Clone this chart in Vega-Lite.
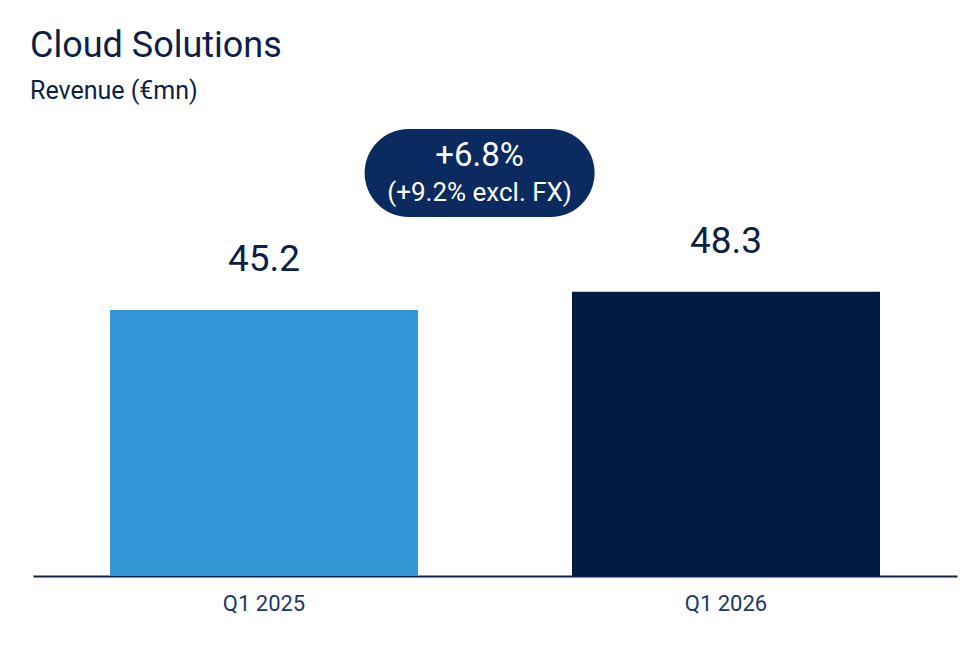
{
  "$schema": "https://vega.github.io/schema/vega-lite/v6.json",
  "width": 924,
  "height": 466,
  "padding": {"left": 30, "right": 21, "top": 28, "bottom": 10},
  "background": "white",
  "config": {
    "font": "Roboto",
    "view": {"stroke": null}
  },
  "title": {
    "text": "Cloud Solutions",
    "subtitle": "Revenue (€mn)",
    "anchor": "start",
    "frame": "group",
    "dx": -3,
    "font": "Roboto",
    "fontSize": 36,
    "fontWeight": "normal",
    "color": "#0c1f46",
    "subtitleFont": "Roboto",
    "subtitleFontSize": 25,
    "subtitleColor": "#0c1f46",
    "subtitlePadding": 14,
    "offset": 5
  },
  "datasets": {
    "revenue": [
      {"quarter": "Q1 2025", "revenue": 45.2, "label": "45.2"},
      {"quarter": "Q1 2026", "revenue": 48.3, "label": "48.3"}
    ],
    "growth": [
      {"from": "Q1 2025", "to": "Q1 2026", "growth": "+6.8%", "growthExFx": "(+9.2% excl. FX)"}
    ]
  },
  "layer": [
    {
      "data": {"name": "revenue"},
      "mark": {"type": "bar"},
      "encoding": {
        "x": {
          "field": "quarter", "type": "nominal", "sort": null,
          "scale": {"paddingInner": 0.3333, "paddingOuter": 0.1667},
          "axis": {
            "title": null, "labelAngle": 0, "ticks": false,
            "domainColor": "#0e2350", "domainWidth": 2,
            "labelFont": "Roboto", "labelFontSize": 22, "labelColor": "#1d3767",
            "labelPadding": 17
          }
        },
        "y": {
          "field": "revenue", "type": "quantitative",
          "scale": {"domain": [0, 79.2], "nice": false},
          "axis": null
        },
        "color": {
          "field": "quarter", "type": "nominal",
          "scale": {"domain": ["Q1 2025", "Q1 2026"], "range": ["#3396d6", "#001b42"]},
          "legend": null
        }
      }
    },
    {
      "data": {"name": "revenue"},
      "mark": {"type": "text", "baseline": "alphabetic", "dy": -39, "fontSize": 37, "color": "#0c1f46", "font": "Roboto"},
      "encoding": {
        "x": {"field": "quarter", "type": "nominal", "sort": null},
        "y": {"field": "revenue", "type": "quantitative"},
        "text": {"field": "label"}
      }
    },
    {
      "data": {"name": "growth"},
      "mark": {
        "type": "point", "filled": true, "opacity": 1, "color": "#0b2a5f", "strokeWidth": 0,
        "shape": "M -0.6174 -0.3826 L 0.6174 -0.3826 A 0.3826 0.3826 0 0 1 0.6174 0.3826 L -0.6174 0.3826 A 0.3826 0.3826 0 0 1 -0.6174 -0.3826 Z",
        "size": 52900
      },
      "encoding": {
        "x": {"field": "from", "type": "nominal", "bandPosition": 1.2},
        "y": {"datum": 68.5, "type": "quantitative"}
      }
    },
    {
      "data": {"name": "growth"},
      "mark": {"type": "text", "baseline": "alphabetic", "dy": -7, "fontSize": 33, "color": "white", "font": "Roboto"},
      "encoding": {
        "x": {"field": "from", "type": "nominal", "bandPosition": 1.2},
        "y": {"datum": 68.5, "type": "quantitative"},
        "text": {"field": "growth"}
      }
    },
    {
      "data": {"name": "growth"},
      "mark": {"type": "text", "baseline": "alphabetic", "dy": 28, "fontSize": 26, "color": "white", "font": "Roboto"},
      "encoding": {
        "x": {"field": "from", "type": "nominal", "bandPosition": 1.2},
        "y": {"datum": 68.5, "type": "quantitative"},
        "text": {"field": "growthExFx"}
      }
    }
  ]
}
